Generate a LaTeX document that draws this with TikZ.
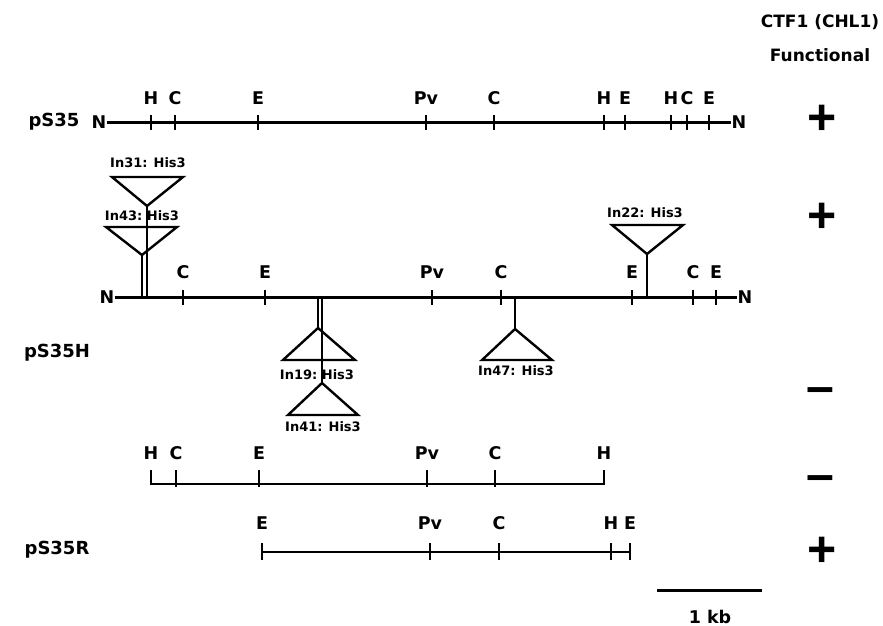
\documentclass[tikz,border=0pt]{standalone}
\usepackage{fontspec}
\setmainfont{DejaVu Sans}
\newfontfamily\scorefont[Ligatures=TeX]{Liberation Sans}
\begin{document}
\begin{tikzpicture}[
  x=1pt, y=-1pt,
  site/.style={font=\fontsize{17.5}{17.5}\selectfont\bfseries, inner sep=0pt},
  ends/.style={site},
  rowname/.style={font=\fontsize{18}{18}\selectfont\bfseries, inner sep=0pt},
  inslabel/.style={font=\fontsize{13}{13}\selectfont\bfseries, inner sep=0pt},
  head/.style={font=\fontsize{17}{17}\selectfont\bfseries, inner sep=0pt},
  score/.style={font=\fontsize{50}{50}\selectfont\scorefont\bfseries, inner sep=0pt},
  dna/.style={line width=3pt},
  frag/.style={line width=2.4pt},
  tick/.style={line width=2pt},
  insert/.style={line width=2.4pt, line join=miter},
  stem/.style={line width=2pt},
]
  \useasboundingbox (0,0) rectangle (883,626);

  % ---- Header ----
  \node[head] (hd1) at (820,22) {CTF1 (CHL1)};
  \node[head] (hd2) at (820,55) {Functional};

  % ==== pS35 ====
  \node[rowname] (r1) at (54,122) {pS35};
  \node[ends] (n1l) at (99,122) {N};
  \node[ends] (n1r) at (739,122) {N};
  \draw[dna] (n1l.east) -- (n1r.west);
  \foreach \x/\s in {151/H,175/C,258/E,426/Pv,494/C,604/H,625/E,671/H,687/C,709/E}{
    \draw[tick] (\x,115) -- (\x,130);
    \node[site] at (\x,98) {\s};
  }
  \node[score] (f1) at (822,120) {+};

  % ==== pS35H ====
  \node[rowname] (r2) at (57,353) {pS35H};
  \node[ends] (n2l) at (107,297) {N};
  \node[ends] (n2r) at (745,297) {N};
  \draw[dna] (n2l.east) -- (n2r.west);
  \foreach \x/\s in {183/C,265/E,432/Pv,501/C,632/E,693/C,716/E}{
    \draw[tick] (\x,290) -- (\x,305);
    \node[site] at (\x,272) {\s};
  }
  \node[score] (f2) at (822,218) {+};
  \node[score] (f3) at (820,396) {--};

  % ---- insertions above the line ----
  \draw[insert] (112,177) -- (183,177) -- (147,206) -- cycle;         % In31
  \node[inslabel] (in31) at (148,163) {In31: His3};
  \draw[insert] (106,227) -- (177,227) -- (142,255) -- cycle;         % In43
  \node[inslabel] (in43) at (142,216) {In43:\ His3};
  \draw[stem] (147,206) -- (147,297);
  \draw[stem] (142,255) -- (142,297);
  \draw[insert] (612,225) -- (683,225) -- (647,254) -- cycle;         % In22
  \node[inslabel] (in22) at (645,213) {In22: His3};
  \draw[stem] (647,254) -- (647,297);

  % ---- insertions below the line ----
  \draw[insert] (283,360) -- (355,360) -- (318,328) -- cycle;         % In19
  \node[inslabel] (in19) at (317,375) {In19:\ His3};
  \draw[insert] (288,415) -- (358,415) -- (322,383) -- cycle;         % In41
  \node[inslabel] (in41) at (323,427) {In41: His3};
  \draw[stem] (318,297) -- (318,328);
  \draw[stem] (322,297) -- (322,383);
  \draw[insert] (482,360) -- (552,360) -- (515,329) -- cycle;         % In47
  \node[inslabel] (in47) at (516,371) {In47: His3};
  \draw[stem] (515,297) -- (515,329);

  % ==== subclone (H--H) ====
  \coordinate (s3l) at (151,484);
  \coordinate (s3r) at (604,484);
  \draw[frag] (s3l) -- (s3r);
  \foreach \x/\s in {151/H,604/H}{
    \draw[tick] (\x,470) -- (\x,485);
    \node[site] at (\x,453) {\s};
  }
  \foreach \x/\s in {176/C,259/E,427/Pv,495/C}{
    \draw[tick] (\x,470) -- (\x,487);
    \node[site] at (\x,453) {\s};
  }
  \node[score] (f4) at (820,484) {--};

  % ==== pS35R ====
  \node[rowname] (r4) at (57,550) {pS35R};
  \coordinate (s4l) at (262,552);
  \coordinate (s4r) at (630,552);
  \draw[frag] (s4l) -- (s4r);
  \foreach \x/\s in {262/E,430/Pv,499/C,611/H,630/E}{
    \draw[tick] (\x,543) -- (\x,560);
    \node[site] at (\x,523) {\s};
  }
  \node[score] (f5) at (822,552) {+};

  % ==== scale bar ====
  \coordinate (sbl) at (657,590);
  \coordinate (sbr) at (762,590);
  \draw[dna] (sbl) -- (sbr);
  \node[site] (kb) at (710,617) {1 kb};
\end{tikzpicture}
\end{document}
